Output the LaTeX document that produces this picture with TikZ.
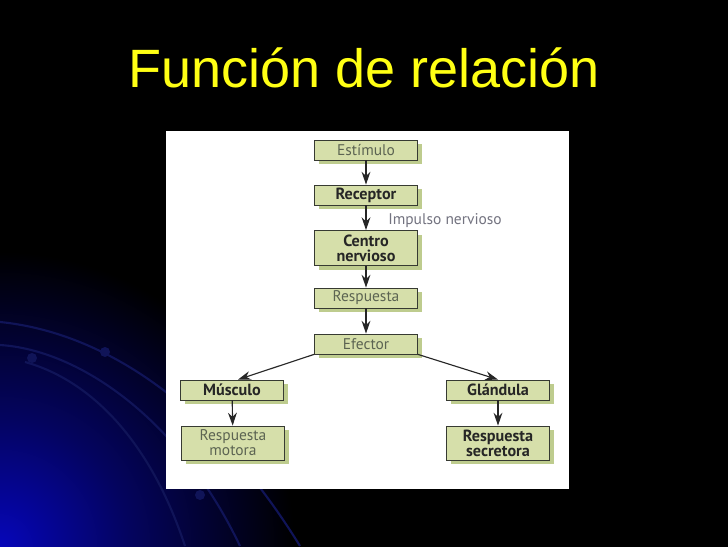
\documentclass[tikz,border=0pt]{standalone}
\usepackage{fontspec}
\setmainfont{Liberation Sans}
\newfontfamily\boxfont{PT Sans}
\usetikzlibrary{arrows.meta,calc,positioning,shadows}
\definecolor{slideyellow}{RGB}{255,255,20}
\definecolor{boxgreen}{RGB}{214,223,170}
\definecolor{shadegreen}{RGB}{190,204,142}
\definecolor{boxline}{RGB}{55,58,50}
\definecolor{softtext}{RGB}{92,100,82}
\definecolor{notegray}{RGB}{115,115,128}
\definecolor{arcblue}{RGB}{16,20,88}
\definecolor{glowblue}{RGB}{6,6,185}
\definecolor{dimblue}{RGB}{4,4,95}
\pgfdeclareradialshading{cornerglow}{\pgfpoint{0bp}{0bp}}{color(0bp)=(glowblue); color(3.5bp)=(dimblue); color(8bp)=(black); color(50bp)=(black)}

\begin{document}
\begin{tikzpicture}[>=Latex,x=0.025cm,y=-0.025cm,
  stepbox/.style={draw=boxline,line width=0.6pt,fill=boxgreen,
    minimum width=2.58cm,minimum height=0.5cm,inner sep=1pt,align=center,
    font=\boxfont\fontsize{11}{10.6}\selectfont,
    drop shadow={shadow xshift=0.11cm,shadow yshift=-0.11cm,fill=shadegreen,opacity=1}},
  strong/.style={stepbox,font=\boxfont\bfseries\fontsize{11.5}{10.6}\selectfont,text=black!85},
  weak/.style={stepbox,text=softtext},
  link/.style={->,line width=0.8pt,draw=black!85,>={Stealth[length=0.32cm,width=0.22cm]}}]
  % slide background
  \useasboundingbox (0,0) rectangle (728,546);
  \begin{scope}
    \clip (0,0) rectangle (728,546);
    \shade[shading=cornerglow] (0,546) circle (920);
    \draw[arcblue,line width=1.5pt] (0,322) .. controls (100,332) and (210,400) .. (300,546);
    \draw[arcblue,line width=1.5pt] (0,345) .. controls (80,350) and (180,420) .. (240,546);
    \draw[arcblue,line width=1.5pt] (25,362) .. controls (90,380) and (150,440) .. (185,546);
    \foreach \p in {(105,352),(32,358),(200,495)}{\fill[arcblue] \p circle (5);}
  \end{scope}
  \node[text=slideyellow,font=\fontsize{38.4}{40}\selectfont,anchor=base] (title) at (364,87) {Función de relación};
  \fill[white] (166,131) rectangle (569,489);

  % flow chart
  \node[weak] (estimulo) at (366,150) {Estímulo};
  \node[strong] (receptor) at (366,195) {Receptor};
  \node[strong,minimum height=0.875cm] (centro) at (366,248) {Centro\\nervioso};
  \node[weak] (respuesta) at (366,298) {Respuesta};
  \node[weak] (efector) at (366,344) {Efector};
  \node[strong] (musculo) at (232,390) {Músculo};
  \node[weak,minimum height=0.85cm] (motora) at (233,443) {Respuesta\\motora};
  \node[strong] (glandula) at (498,390) {Glándula};
  \node[strong,minimum height=0.85cm] (secretora) at (498,443) {Respuesta\\secretora};
  \node[anchor=base west,inner sep=0pt,text=notegray,font=\boxfont\fontsize{11}{10.6}\selectfont] (impulso) at (388,224) {Impulso nervioso};

  \draw[link] (estimulo) -- (receptor);
  \draw[link] (receptor) -- (centro);
  \draw[link] (centro) -- (respuesta);
  \draw[link] (respuesta) -- (efector);
  \draw[link] (efector.south west) -- ([xshift=0.15cm]musculo.north);
  \draw[link] (efector.south east) -- (glandula.north);
  \draw[link] (musculo) -- (motora);
  \draw[link] (glandula) -- (secretora);
\end{tikzpicture}
\end{document}
